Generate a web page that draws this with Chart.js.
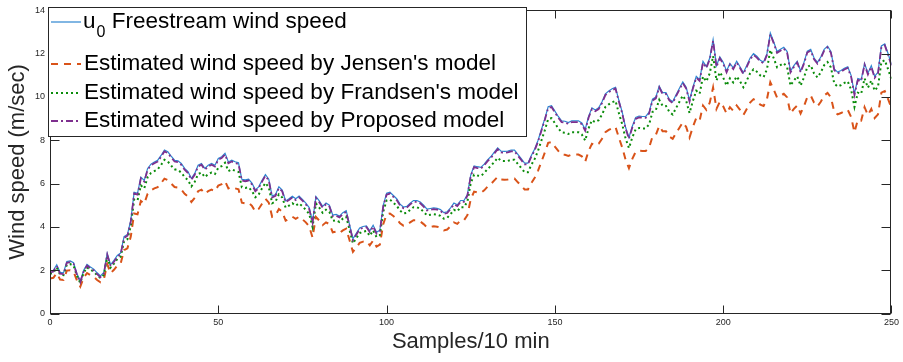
<!DOCTYPE html>
<html>
<head>
<meta charset="utf-8">
<script src="https://cdn.jsdelivr.net/npm/chart.js@4.4.0/dist/chart.umd.min.js"></script>
<style>
  html, body { margin: 0; padding: 0; background: #fff; }
  #wrap { width: 903px; height: 362px; position: relative; }
</style>
</head>
<body>
<div id="wrap"><canvas id="windChart"></canvas></div>
<script>
// tick labels
const xTicks = [0, 50, 100, 150, 200, 250];
const yTicks = [0, 2, 4, 6, 8, 10, 12, 14];

// u0 freestream wind speed (m/sec), one value per 10-min sample 0..250
const freestream = [
  1.95, 2.00, 2.25, 1.90, 1.88, 2.40, 2.43, 2.35, 1.85, 1.50,
  2.00, 2.27, 2.15, 2.05, 1.88, 1.74, 1.90, 2.78, 2.25, 2.45,
  2.68, 2.80, 3.55, 3.65, 4.30, 5.60, 5.55, 6.30, 6.15, 6.70,
  6.90, 7.00, 7.08, 7.30, 7.55, 7.47, 7.27, 7.08, 7.05, 6.93,
  6.70, 6.55, 6.24, 6.47, 6.85, 6.93, 6.70, 6.85, 6.93, 6.85,
  7.16, 7.24, 7.40, 7.00, 7.08, 7.01, 6.96, 6.20, 6.17, 6.20,
  6.02, 5.71, 5.85, 6.15, 6.42, 6.20, 5.42, 5.50, 5.85, 5.70,
  5.20, 5.30, 5.42, 5.30, 5.42, 5.27, 5.10, 4.89, 4.25, 5.40,
  5.20, 4.95, 5.10, 5.00, 4.55, 4.58, 4.50, 4.66, 4.75, 4.10,
  3.45, 3.70, 3.95, 4.02, 4.05, 3.82, 4.08, 3.75, 3.85, 5.00,
  5.55, 5.60, 5.45, 5.30, 5.05, 4.92, 4.95, 5.10, 5.22, 5.22,
  5.15, 5.00, 4.82, 4.85, 4.88, 4.86, 4.80, 4.66, 4.70, 4.88,
  5.10, 5.02, 5.22, 5.22, 5.50, 6.40, 6.82, 6.78, 6.75, 6.90,
  7.10, 7.25, 7.45, 7.65, 7.50, 7.49, 7.50, 7.55, 7.55, 7.35,
  7.15, 6.95, 6.95, 7.30, 7.60, 8.00, 8.50, 9.00, 9.55, 9.60,
  9.35, 9.10, 8.90, 8.88, 8.82, 8.90, 8.90, 8.90, 8.80, 8.50,
  9.10, 9.50, 9.40, 9.50, 9.78, 10.15, 10.28, 10.38, 10.45, 9.85,
  9.30, 8.60, 8.13, 8.65, 9.05, 9.12, 9.10, 9.10, 9.30, 9.90,
  10.00, 10.50, 10.20, 10.20, 9.90, 9.78, 10.10, 10.40, 10.70, 10.45,
  9.85, 10.45, 10.95, 10.80, 11.65, 11.40, 11.80, 12.65, 11.45, 11.85,
  11.60, 11.20, 11.55, 11.35, 11.65, 11.40, 11.12, 11.45, 11.80, 12.00,
  11.88, 11.70, 11.62, 12.00, 12.95, 12.55, 12.10, 12.20, 12.30, 12.10,
  11.20, 11.45, 11.65, 11.20, 11.60, 12.12, 12.20, 11.80, 11.60, 11.85,
  12.20, 12.35, 12.10, 11.30, 11.15, 11.22, 11.33, 11.40, 11.00, 10.15,
  10.85, 10.80, 11.55, 11.10, 11.45, 10.95, 11.15, 12.36, 12.45, 12.00,
  11.50
];

// Jensen's model estimate
const jensen = [
  1.61, 1.65, 1.86, 1.57, 1.55, 1.98, 2.00, 1.94, 1.53, 1.24,
  1.65, 1.87, 1.77, 1.69, 1.55, 1.44, 1.57, 2.29, 1.86, 2.02,
  2.21, 2.31, 2.93, 3.01, 3.55, 4.62, 4.58, 5.20, 5.07, 5.53,
  5.69, 5.78, 5.84, 6.02, 6.23, 6.16, 6.00, 5.84, 5.82, 5.72,
  5.53, 5.40, 5.15, 5.34, 5.65, 5.72, 5.53, 5.65, 5.72, 5.65,
  5.91, 5.97, 6.11, 5.78, 5.84, 5.78, 5.74, 5.12, 5.09, 5.12,
  4.97, 4.71, 4.83, 5.07, 5.30, 5.12, 4.47, 4.54, 4.83, 4.70,
  4.29, 4.37, 4.47, 4.37, 4.47, 4.35, 4.21, 4.03, 3.51, 4.46,
  4.29, 4.08, 4.21, 4.13, 3.75, 3.78, 3.71, 3.84, 3.92, 3.38,
  2.85, 3.05, 3.26, 3.32, 3.34, 3.15, 3.37, 3.09, 3.18, 4.13,
  4.58, 4.62, 4.50, 4.37, 4.17, 4.06, 4.08, 4.21, 4.31, 4.31,
  4.25, 4.13, 3.98, 4.00, 4.03, 4.01, 3.96, 3.84, 3.88, 4.03,
  4.21, 4.14, 4.31, 4.31, 4.54, 5.28, 5.63, 5.59, 5.57, 5.69,
  5.86, 5.98, 6.15, 6.31, 6.19, 6.18, 6.19, 6.23, 6.23, 6.06,
  5.90, 5.73, 5.73, 6.02, 6.27, 6.60, 7.01, 7.43, 7.88, 7.92,
  7.71, 7.51, 7.34, 7.33, 7.28, 7.34, 7.34, 7.34, 7.26, 7.01,
  7.51, 7.84, 7.76, 7.84, 8.07, 8.37, 8.48, 8.56, 8.62, 8.13,
  7.67, 7.10, 6.71, 7.14, 7.47, 7.52, 7.51, 7.51, 7.67, 8.17,
  8.25, 8.66, 8.42, 8.42, 8.17, 8.07, 8.33, 8.58, 8.83, 8.62,
  8.13, 8.62, 9.03, 8.91, 9.61, 9.41, 9.74, 10.44, 9.45, 9.78,
  9.57, 9.24, 9.53, 9.36, 9.61, 9.41, 9.17, 9.45, 9.74, 9.90,
  9.80, 9.65, 9.59, 9.90, 10.68, 10.35, 9.98, 10.07, 10.15, 9.98,
  9.24, 9.45, 9.61, 9.24, 9.57, 10.00, 10.07, 9.74, 9.57, 9.78,
  10.07, 10.19, 9.98, 9.32, 9.20, 9.26, 9.35, 9.41, 9.08, 8.37,
  8.95, 8.91, 9.53, 9.16, 9.45, 9.03, 9.20, 10.20, 10.27, 9.90,
  9.49
];

// Frandsen's model estimate
const frandsen = [
  1.83, 1.88, 2.12, 1.79, 1.77, 2.26, 2.28, 2.21, 1.74, 1.41,
  1.88, 2.13, 2.02, 1.93, 1.77, 1.64, 1.79, 2.61, 2.12, 2.30,
  2.52, 2.63, 3.34, 3.43, 4.04, 5.26, 5.22, 5.92, 5.78, 6.30,
  6.49, 6.58, 6.66, 6.86, 7.10, 7.02, 6.83, 6.66, 6.63, 6.51,
  6.30, 6.16, 5.87, 6.08, 6.44, 6.51, 6.30, 6.44, 6.51, 6.44,
  6.73, 6.81, 6.96, 6.58, 6.66, 6.59, 6.54, 5.83, 5.80, 5.83,
  5.66, 5.37, 5.50, 5.78, 6.03, 5.83, 5.09, 5.17, 5.50, 5.36,
  4.89, 4.98, 5.09, 4.98, 5.09, 4.95, 4.79, 4.60, 4.00, 5.08,
  4.89, 4.65, 4.79, 4.70, 4.28, 4.31, 4.23, 4.38, 4.47, 3.85,
  3.24, 3.48, 3.71, 3.78, 3.81, 3.59, 3.84, 3.53, 3.62, 4.70,
  5.22, 5.26, 5.12, 4.98, 4.75, 4.62, 4.65, 4.79, 4.91, 4.91,
  4.84, 4.70, 4.53, 4.56, 4.59, 4.57, 4.51, 4.38, 4.42, 4.59,
  4.79, 4.72, 4.91, 4.91, 5.17, 6.02, 6.41, 6.37, 6.35, 6.49,
  6.67, 6.82, 7.00, 7.19, 7.05, 7.04, 7.05, 7.10, 7.10, 6.91,
  6.72, 6.53, 6.53, 6.86, 7.14, 7.52, 7.99, 8.46, 8.98, 9.02,
  8.79, 8.55, 8.37, 8.35, 8.29, 8.37, 8.37, 8.37, 8.27, 7.99,
  8.55, 8.93, 8.84, 8.93, 9.19, 9.54, 9.66, 9.76, 9.82, 9.26,
  8.74, 8.08, 7.64, 8.13, 8.51, 8.57, 8.55, 8.55, 8.74, 9.31,
  9.40, 9.87, 9.59, 9.59, 9.31, 9.19, 9.49, 9.78, 10.06, 9.82,
  9.26, 9.82, 10.29, 10.15, 10.95, 10.72, 11.09, 11.89, 10.76, 11.14,
  10.90, 10.53, 10.86, 10.67, 10.95, 10.72, 10.45, 10.76, 11.09, 11.28,
  11.17, 11.00, 10.92, 11.28, 12.17, 11.80, 11.37, 11.47, 11.56, 11.37,
  10.53, 10.76, 10.95, 10.53, 10.90, 11.39, 11.47, 11.09, 10.90, 11.14,
  11.47, 11.61, 11.37, 10.62, 10.48, 10.55, 10.65, 10.72, 10.34, 9.54,
  10.20, 10.15, 10.86, 10.43, 10.76, 10.29, 10.48, 11.62, 11.70, 11.28,
  10.81
];

// Proposed model estimate
const proposed = [
  1.89, 1.94, 2.19, 1.84, 1.82, 2.34, 2.37, 2.29, 1.79, 1.44,
  1.94, 2.21, 2.09, 1.99, 1.82, 1.68, 1.84, 2.72, 2.19, 2.39,
  2.62, 2.74, 3.49, 3.59, 4.24, 5.54, 5.49, 6.24, 6.09, 6.64,
  6.84, 6.94, 7.02, 7.24, 7.49, 7.41, 7.21, 7.02, 6.99, 6.87,
  6.64, 6.49, 6.18, 6.41, 6.79, 6.87, 6.64, 6.79, 6.87, 6.79,
  7.10, 7.18, 7.34, 6.94, 7.02, 6.95, 6.90, 6.14, 6.11, 6.14,
  5.96, 5.65, 5.79, 6.09, 6.36, 6.14, 5.36, 5.44, 5.79, 5.64,
  5.14, 5.24, 5.36, 5.24, 5.36, 5.21, 5.04, 4.83, 4.19, 5.34,
  5.14, 4.89, 5.04, 4.94, 4.49, 4.52, 4.44, 4.60, 4.69, 4.04,
  3.39, 3.64, 3.89, 3.96, 3.99, 3.76, 4.02, 3.69, 3.79, 4.94,
  5.49, 5.54, 5.39, 5.24, 4.99, 4.86, 4.89, 5.04, 5.16, 5.16,
  5.09, 4.94, 4.76, 4.79, 4.82, 4.80, 4.74, 4.60, 4.64, 4.82,
  5.04, 4.96, 5.16, 5.16, 5.44, 6.34, 6.76, 6.72, 6.69, 6.84,
  7.04, 7.19, 7.39, 7.59, 7.44, 7.43, 7.44, 7.49, 7.49, 7.29,
  7.09, 6.89, 6.89, 7.24, 7.54, 7.94, 8.44, 8.94, 9.49, 9.54,
  9.29, 9.04, 8.84, 8.82, 8.76, 8.84, 8.84, 8.84, 8.74, 8.44,
  9.04, 9.44, 9.34, 9.44, 9.72, 10.09, 10.22, 10.32, 10.39, 9.79,
  9.24, 8.54, 8.07, 8.59, 8.99, 9.06, 9.04, 9.04, 9.24, 9.84,
  9.94, 10.44, 10.14, 10.14, 9.84, 9.72, 10.04, 10.34, 10.64, 10.39,
  9.79, 10.39, 10.89, 10.74, 11.59, 11.34, 11.74, 12.59, 11.39, 11.79,
  11.54, 11.14, 11.49, 11.29, 11.59, 11.34, 11.06, 11.39, 11.74, 11.94,
  11.82, 11.64, 11.56, 11.94, 12.89, 12.49, 12.04, 12.14, 12.24, 12.04,
  11.14, 11.39, 11.59, 11.14, 11.54, 12.06, 12.14, 11.74, 11.54, 11.79,
  12.14, 12.29, 12.04, 11.24, 11.09, 11.16, 11.27, 11.34, 10.94, 10.09,
  10.79, 10.74, 11.49, 11.04, 11.39, 10.89, 11.09, 12.30, 12.39, 11.94,
  11.44
];

const FONT = "'Liberation Sans', Arial, Helvetica, sans-serif";
const AXIS_COLOR = '#262626';

function toPoints(values) {
  return values.map((v, i) => ({ x: i, y: v }));
}

// MATLAB-style box with inward ticks plus a boxed legend in the upper-left corner
const frameAndLegend = {
  id: 'frameAndLegend',
  afterDraw(chart) {
    const ctx = chart.ctx;
    const a = chart.chartArea;
    const xs = chart.scales.x;
    const ys = chart.scales.y;
    const L = Math.round(a.left) + 0.5, R = Math.round(a.right) - 0.5;
    const T = Math.round(a.top) + 0.5, B = Math.round(a.bottom) - 0.5;
    ctx.save();
    ctx.strokeStyle = AXIS_COLOR;
    ctx.lineWidth = 1;
    ctx.strokeRect(L, T, R - L, B - T);
    ctx.beginPath();
    xTicks.forEach(v => {
      const px = Math.round(xs.getPixelForValue(v)) + 0.5;
      ctx.moveTo(px, B); ctx.lineTo(px, B - 8);
      ctx.moveTo(px, T); ctx.lineTo(px, T + 8);
    });
    yTicks.forEach(v => {
      const py = Math.round(ys.getPixelForValue(v)) + 0.5;
      ctx.moveTo(L, py); ctx.lineTo(L + 9, py);
      ctx.moveTo(R, py); ctx.lineTo(R - 9, py);
    });
    ctx.stroke();

    // legend
    const box = { x: 48.5, y: 7.5, w: 478, h: 129 };
    ctx.fillStyle = '#fff';
    ctx.fillRect(box.x, box.y, box.w, box.h);
    ctx.strokeStyle = AXIS_COLOR;
    ctx.strokeRect(box.x, box.y, box.w, box.h);

    const rows = [22, 64, 93, 121];
    const sets = chart.data.datasets;
    sets.forEach((ds, i) => {
      const y = rows[i];
      ctx.save();
      ctx.strokeStyle = ds.borderColor;
      ctx.lineWidth = ds.borderWidth;
      ctx.setLineDash(ds.borderDash || []);
      ctx.beginPath();
      ctx.moveTo(51, y); ctx.lineTo(81, y);
      ctx.stroke();
      ctx.restore();
    });

    ctx.fillStyle = '#000';
    ctx.textBaseline = 'middle';
    ctx.textAlign = 'left';
    ctx.font = '22.5px ' + FONT;
    ctx.fillText('u', 83, rows[0]);
    const uw = ctx.measureText('u').width;
    ctx.font = '16px ' + FONT;
    ctx.fillText('0', 83 + uw + 1, rows[0] + 11);
    const zw = ctx.measureText('0').width;
    ctx.font = '22.5px ' + FONT;
    ctx.fillText(' Freestream wind speed', 83 + uw + 1 + zw, rows[0]);
    ctx.fillText("Estimated wind speed by Jensen's model", 84, rows[1]);
    ctx.fillText("Estimated wind speed by Frandsen's model", 84, rows[2]);
    ctx.fillText('Estimated wind speed by Proposed model', 84, rows[3]);
    ctx.restore();
  }
};

const ctx = document.getElementById('windChart').getContext('2d');
const windChart = new Chart(ctx, {
  type: 'line',
  data: {
    datasets: [
      {
        label: 'u0 Freestream wind speed',
        data: toPoints(freestream),
        borderColor: '#2E86D1',
        borderWidth: 1.2,
        order: 4
      },
      {
        label: "Estimated wind speed by Jensen's model",
        data: toPoints(jensen),
        borderColor: '#D95319',
        borderWidth: 2,
        borderDash: [7, 6],
        order: 3
      },
      {
        label: "Estimated wind speed by Frandsen's model",
        data: toPoints(frandsen),
        borderColor: '#0B8C0B',
        borderWidth: 2,
        borderDash: [2, 3],
        order: 2
      },
      {
        label: 'Estimated wind speed by Proposed model',
        data: toPoints(proposed),
        borderColor: '#7E2F8E',
        borderWidth: 1.8,
        borderDash: [7, 3, 2, 3],
        order: 1
      }
    ]
  },
  options: {
    responsive: true,
    maintainAspectRatio: false,
    animation: false,
    devicePixelRatio: 1,
    elements: {
      point: { radius: 0 },
      line: { tension: 0, fill: false }
    },
    layout: { padding: { top: 7.5, right: 9, left: 0, bottom: 0 } },
    plugins: {
      legend: { display: false },
      tooltip: { enabled: false }
    },
    scales: {
      x: {
        type: 'linear',
        min: 0,
        max: 250,
        afterBuildTicks(scale) { scale.ticks = xTicks.map(v => ({ value: v })); },
        afterFit(scale) { scale.height = 48.5; },
        ticks: { font: { size: 9, family: FONT }, color: AXIS_COLOR, padding: 4, maxRotation: 0 },
        grid: { display: false, drawTicks: false },
        border: { display: false },
        title: {
          display: true,
          text: 'Samples/10 min',
          color: AXIS_COLOR,
          font: { size: 22, family: FONT },
          padding: { top: 0, bottom: 7 }
        }
      },
      y: {
        min: 0,
        max: 14,
        afterBuildTicks(scale) { scale.ticks = yTicks.map(v => ({ value: v })); },
        afterFit(scale) { scale.width = 50; },
        ticks: { font: { size: 9, family: FONT }, color: AXIS_COLOR, padding: 5 },
        grid: { display: false, drawTicks: false },
        border: { display: false },
        title: {
          display: true,
          text: 'Wind speed (m/sec)',
          color: AXIS_COLOR,
          font: { size: 22, family: FONT },
          padding: { top: 5, bottom: 0 }
        }
      }
    }
  },
  plugins: [frameAndLegend]
});
</script>
</body>
</html>
